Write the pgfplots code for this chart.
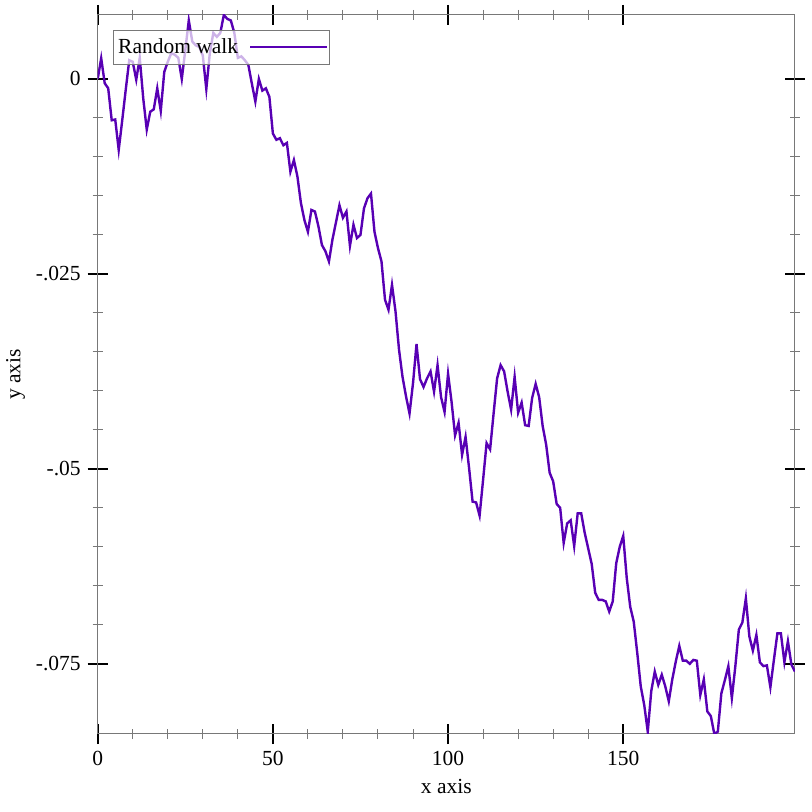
\documentclass[border=0pt]{standalone}
\usepackage{fontspec}
\setmainfont{Liberation Serif}
\usepackage{pgfplots}
\pgfplotsset{compat=1.18}
\definecolor{walk}{RGB}{88,0,180}
\definecolor{axgray}{RGB}{120,120,120}
\begin{document}
\begin{tikzpicture}
\useasboundingbox (0,0) rectangle (406pt,406pt);
\begin{axis}[
  at={(48.85pt,39pt)}, anchor=south west,
  scale only axis, width=348.6pt, height=359.5pt,
  xmin=0, xmax=199, ymin=-0.0840, ymax=0.0082,
  font=\fontsize{10.75}{13}\selectfont,
  axis line style={axgray, line width=0.5pt},
  tick align=center,
  major tick length=10pt, minor tick length=5pt,
  every tick/.style={black, line width=1pt},
  minor tick style={axgray, line width=0.5pt},
  xtick={0,50,100,150}, xticklabels={0,50,100,150},
  ytick={-0.075,-0.05,-0.025,0}, yticklabels={-.075,-.05,-.025,0},
  minor x tick num=4, minor y tick num=4,
  scaled y ticks=false,
  xlabel={x axis}, ylabel={y axis},
  ylabel style={xshift=0pt, yshift=-1.5pt},
  legend plot pos=right,
  legend cell align=left,
  legend image code/.code={\path (0pt,0pt); \draw[#1] (3.5pt,0pt) -- (42pt,0pt);},
  legend style={at={(0.0215,0.9795)}, anchor=north west, draw=axgray, line width=0.5pt,
    fill=white, fill opacity=0.7, text opacity=1, inner xsep=0.5pt, inner ysep=2pt, rounded corners=0pt},
]
\addplot[walk, line width=1.2pt, mark=none] coordinates {
(0,0) (1,0.00265) (2,-0.00055) (3,-0.0012) (4,-0.0053) (5,-0.0052) (6,-0.0091) (7,-0.0053) (8,-0.0014) (9,0.0024)
(10,0.0022) (11,-0.0001) (12,0.0027) (13,-0.0025) (14,-0.0065) (15,-0.0042) (16,-0.0039) (17,-0.0012) (18,-0.0041) (19,0.0009)
(20,0.0022) (21,0.0033) (22,0.0031) (23,0.0027) (24,0.0) (25,0.0037) (26,0.0075) (27,0.0048) (28,0.0043) (29,0.0041)
(30,0.0030) (31,-0.0013) (32,0.0033) (33,0.0059) (34,0.0054) (35,0.0059) (36,0.0082) (37,0.0077) (38,0.0075) (39,0.0059)
(40,0.0027) (41,0.0029) (42,0.0024) (43,0.0018) (44,-0.0006) (45,-0.0029) (46,0.0) (47,-0.0015) (48,-0.0012) (49,-0.0023)
(50,-0.007) (51,-0.0078) (52,-0.0076) (53,-0.0085) (54,-0.0082) (55,-0.0119) (56,-0.0104) (57,-0.0125) (58,-0.0159) (59,-0.0181)
(60,-0.0196) (61,-0.0168) (62,-0.017) (63,-0.0189) (64,-0.0213) (65,-0.0221) (66,-0.0234) (67,-0.0206) (68,-0.0184) (69,-0.0162)
(70,-0.0178) (71,-0.017) (72,-0.0214) (73,-0.0187) (74,-0.0204) (75,-0.02) (76,-0.0166) (77,-0.0153) (78,-0.0147) (79,-0.0196)
(80,-0.0217) (81,-0.0234) (82,-0.0283) (83,-0.0296) (84,-0.0264) (85,-0.0298) (86,-0.0347) (87,-0.0382) (88,-0.0407) (89,-0.0429)
(90,-0.039) (91,-0.034) (92,-0.0385) (93,-0.0395) (94,-0.0384) (95,-0.0375) (96,-0.0401) (97,-0.0367) (98,-0.0408) (99,-0.0427)
(100,-0.0378) (101,-0.0414) (102,-0.0457) (103,-0.0441) (104,-0.0482) (105,-0.0459) (106,-0.0499) (107,-0.0542) (108,-0.0543) (109,-0.056)
(110,-0.0514) (111,-0.0467) (112,-0.0475) (113,-0.0429) (114,-0.0384) (115,-0.0367) (116,-0.0375) (117,-0.0401) (118,-0.0424) (119,-0.0382)
(120,-0.0428) (121,-0.0415) (122,-0.0444) (123,-0.0445) (124,-0.0409) (125,-0.0391) (126,-0.0408) (127,-0.0445) (128,-0.0469) (129,-0.0505)
(130,-0.0516) (131,-0.0545) (132,-0.055) (133,-0.0595) (134,-0.057) (135,-0.0566) (136,-0.0599) (137,-0.0557) (138,-0.0557) (139,-0.0582)
(140,-0.0602) (141,-0.0622) (142,-0.0659) (143,-0.0668) (144,-0.0668) (145,-0.067) (146,-0.0683) (147,-0.067) (148,-0.0621) (149,-0.06)
(150,-0.0586) (151,-0.064) (152,-0.0677) (153,-0.0696) (154,-0.0736) (155,-0.0779) (156,-0.0803) (157,-0.0837) (158,-0.0785) (159,-0.076)
(160,-0.0777) (161,-0.0764) (162,-0.0779) (163,-0.0798) (164,-0.077) (165,-0.0747) (166,-0.0727) (167,-0.0746) (168,-0.0746) (169,-0.075)
(170,-0.0745) (171,-0.0746) (172,-0.079) (173,-0.077) (174,-0.0811) (175,-0.0817) (176,-0.084) (177,-0.0837) (178,-0.0788) (179,-0.0771)
(180,-0.0753) (181,-0.0794) (182,-0.0753) (183,-0.0706) (184,-0.0697) (185,-0.0666) (186,-0.0715) (187,-0.0733) (188,-0.0713) (189,-0.0748)
(190,-0.0753) (191,-0.0752) (192,-0.078) (193,-0.0745) (194,-0.0711) (195,-0.0711) (196,-0.0748) (197,-0.0721) (198,-0.0751) (199,-0.076)
};
\addlegendentry{Random walk}
\end{axis}
\end{tikzpicture}
\end{document}
